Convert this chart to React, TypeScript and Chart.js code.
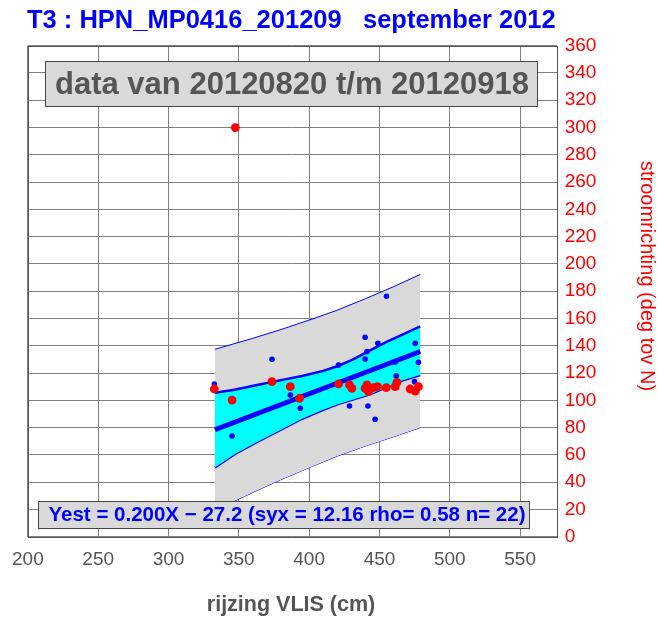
import React, { useEffect, useRef } from "react";
import { Chart, registerables } from "chart.js";

Chart.register(...registerables);

const titleText = "T3 : HPN_MP0416_201209   september 2012";
const periodText = "data van 20120820 t/m 20120918";
const eqText = "Yest = 0.200X \u2212 27.2 (syx = 12.16 rho= 0.58 n= 22)";
const xTitle = "rijzing VLIS (cm)";
const yTitle = "stroomrichting (deg tov N)";

const xTicks = [200, 250, 300, 350, 400, 450, 500, 550];
const yTicks = [0, 20, 40, 60, 80, 100, 120, 140, 160, 180, 200, 220, 240, 260, 280, 300, 320, 340, 360];

// blue measured points (rijzing, richting)
const blueX = [332.6, 345.2, 373.6, 386.6, 393.7, 420.9, 428.7, 439.8, 441.1, 439.8, 441.8, 446.9, 448.9, 455.0, 461.2, 461.9, 475.4, 477.7, 474.9];
const blueY = [112.0, 73.8, 130.1, 103.9, 94.2, 125.9, 95.8, 146.2, 135.7, 130.3, 95.8, 86.1, 141.8, 176.3, 128.1, 117.9, 141.8, 127.9, 113.7];

// red points
const redX = [332.6, 345.2, 373.6, 386.6, 393.2, 420.9, 428.7, 430.4, 439.8, 441.1, 442.2, 445.7, 448.6, 454.8, 461.2, 462.4, 471.8, 475.4, 477.7, 347.5];
const redY = [108.3, 100.2, 113.7, 110.0, 101.5, 112.0, 111.3, 108.8, 108.8, 111.3, 106.3, 109.3, 110.0, 109.3, 110.0, 113.2, 108.3, 106.8, 110.0, 300.0];

// regression line
const fitX = [333, 479];
const fitY = [78.4, 135.8];

// confidence band
const ciX = [333, 347, 363, 380, 395, 410, 420, 431, 443, 455, 466, 479];
const ciUpper = [105.5, 107.8, 111.2, 114.8, 117.8, 121.6, 125.0, 129.8, 136.5, 142.8, 148.0, 154.2];
const ciLower = [50.8, 60.5, 69.5, 78.5, 86.5, 93.0, 97.0, 100.5, 104.3, 109.5, 114.5, 118.5];

// prediction band
const piX = [333, 360, 380, 402, 420, 440, 460, 479];
const piUpper = [137.4, 145.5, 151.9, 159.5, 166.1, 174.5, 183.3, 192.3];
const piLower = [19.4, 32.5, 41.9, 51.5, 59.1, 66.5, 73.3, 80.0];

const FONT = '"Liberation Sans", Arial, sans-serif';

const pts = (xs: number[], ys: number[]) => xs.map((x, i) => ({ x, y: ys[i] }));

const overlay = {
  id: "overlay",
  afterDraw(chart: any) {
    const ctx = chart.ctx;
    const a = chart.chartArea;
    ctx.save();
    // frame
    ctx.strokeStyle = "#555555";
    ctx.lineWidth = 1;
    ctx.strokeRect(Math.round(a.left) + 0.5, Math.round(a.top) + 0.5, Math.round(a.right - a.left), Math.round(a.bottom - a.top));

    // period box
    ctx.fillStyle = "#d9d9d9";
    ctx.strokeStyle = "#444444";
    ctx.fillRect(45.5, 61.5, 492, 45);
    ctx.strokeRect(45.5, 61.5, 492, 45);
    ctx.fillStyle = "#555555";
    ctx.font = `bold 31px ${FONT}`;
    ctx.textAlign = "center";
    ctx.textBaseline = "middle";
    ctx.fillText(periodText, 292, 85);

    // equation box
    ctx.fillStyle = "#d9d9d9";
    ctx.fillRect(38.5, 501.5, 491, 27);
    ctx.strokeRect(38.5, 501.5, 491, 27);
    ctx.fillStyle = "#0000ff";
    ctx.font = `bold 20.5px ${FONT}`;
    ctx.fillText(eqText, 287, 515.5);

    // title
    ctx.textAlign = "left";
    ctx.font = `bold 25.5px ${FONT}`;
    ctx.fillText(titleText, 27, 21);

    // x title
    ctx.textAlign = "center";
    ctx.fillStyle = "#555555";
    ctx.font = `bold 21.5px ${FONT}`;
    ctx.fillText(xTitle, 291, 605);

    // y title
    ctx.translate(647, 276);
    ctx.rotate(Math.PI / 2);
    ctx.fillStyle = "#ff0000";
    ctx.font = `20px ${FONT}`;
    ctx.fillText(yTitle, 0, 0);
    ctx.restore();
  },
};

export default function App() {
  const ref = useRef<HTMLCanvasElement | null>(null);
  useEffect(() => {
    if (!ref.current) return;
    const chart = new Chart(ref.current, {
      type: "scatter",
      data: {
        datasets: [
          {
            type: "scatter",
            data: pts(redX, redY),
            backgroundColor: "#ff0000",
            borderColor: "#ff0000",
            borderWidth: 0,
            pointRadius: 4.4,
          } as any,
          {
            type: "scatter",
            data: pts(blueX, blueY),
            backgroundColor: "#0000ff",
            borderColor: "#0000ff",
            borderWidth: 0,
            pointRadius: 2.8,
          },
          {
            type: "line",
            data: pts(fitX, fitY),
            borderColor: "#0000ff",
            borderWidth: 5,
            pointRadius: 0,
            fill: false,
          },
          {
            type: "line",
            data: pts(ciX, ciUpper),
            borderColor: "#0000ff",
            borderWidth: 2.5,
            pointRadius: 0,
            fill: "+1",
            backgroundColor: "#00ffff",
          },
          {
            type: "line",
            data: pts(ciX, ciLower),
            borderColor: "#0000ff",
            borderWidth: 2.5,
            pointRadius: 0,
            fill: false,
          },
          {
            type: "line",
            data: pts(piX, piUpper),
            borderColor: "#0000ff",
            borderWidth: 1,
            pointRadius: 0,
            fill: "+1",
            backgroundColor: "#d9d9d9",
          },
          {
            type: "line",
            data: pts(piX, piLower),
            borderColor: "#0000ff",
            borderWidth: 1,
            pointRadius: 0,
            fill: false,
          },
        ],
      },
      options: {
        responsive: false,
        animation: false,
        layout: { padding: { left: 27.3, top: 45.7, right: 0, bottom: 0 } },
        plugins: { legend: { display: false }, tooltip: { enabled: false } },
        scales: {
          x: {
            type: "linear",
            position: "bottom",
            min: 200,
            max: 576,
            afterBuildTicks: (s: any) => {
              s.ticks = xTicks.map((v) => ({ value: v }));
            },
            afterFit: (s: any) => {
              s.height = 81.3;
            },
            grid: { color: "#808080", lineWidth: 1, drawTicks: false },
            border: { display: false },
            ticks: { color: "#555555", font: { family: FONT, size: 19 }, padding: 12, maxRotation: 0 },
          },
          y: {
            type: "linear",
            position: "right",
            min: 0,
            max: 360,
            afterBuildTicks: (s: any) => {
              s.ticks = yTicks.map((v) => ({ value: v }));
            },
            afterFit: (s: any) => {
              s.width = 101.3;
            },
            grid: { color: "#808080", lineWidth: 1, drawTicks: false },
            border: { display: false },
            ticks: { color: "#ff0000", font: { family: FONT, size: 19 }, padding: 8 },
          },
        },
      },
      plugins: [overlay],
    });
    return () => chart.destroy();
  }, []);
  return (
    <div style={{ position: "absolute", left: 0, top: 0, width: 658, height: 618 }}>
      <canvas ref={ref} width={658} height={618} style={{ width: 658, height: 618, display: "block" }} />
    </div>
  );
}
